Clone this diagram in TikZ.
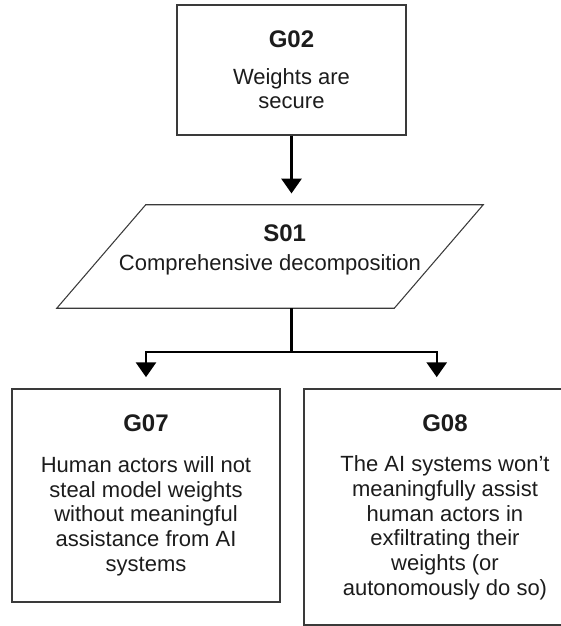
\documentclass[tikz,border=0pt]{standalone}
\usepackage{fontspec}
\setmainfont{Liberation Sans}
\usetikzlibrary{arrows.meta}

\definecolor{boxgrey}{HTML}{3A3A3A}
\definecolor{inkblack}{HTML}{1C1C1C}
\newcommand{\bodyfont}{\fontsize{16.5}{18.5}\selectfont}
\newcommand{\titlefont}{\bfseries\fontsize{18}{18}\selectfont}

\tikzset{
  boxline/.style={draw=boxgrey, line width=0.8pt},
  goal/.style={boxline, rectangle, align=center, inner sep=0pt, text=inkblack, font=\bodyfont},
  link/.style={line width=1.6pt},
  arr/.style={link, -{Triangle[length=11pt,width=15pt]}, shorten >=8.5pt},
}

\begin{document}
\begin{tikzpicture}[x=0.75pt,y=-0.75pt]
\clip (0,0) rectangle (561,626);

\node[goal, minimum width=171.75pt, minimum height=97.5pt] (g02) at (291.5,70) {{\titlefont G02}\\[9pt]Weights are\\secure};
\node[inner sep=0pt, minimum width=319.5pt, minimum height=77.25pt] (s01) at (270,256.5) {};
\draw[boxline] (s01.south west) -- ([xshift=-66.75pt]s01.south east) -- (s01.north east) -- ([xshift=66.75pt]s01.north west) -- cycle;
\node[align=center, text=inkblack, font=\bodyfont] (s01text) at (270,250) {\hspace*{22pt}{\titlefont S01}\\[3pt]Comprehensive decomposition};
\node[goal, minimum width=201pt, minimum height=159.75pt] (g07) at (146,495.5) {{\titlefont G07}\\[12pt]Human actors will not\\steal model weights\\without meaningful\\assistance from AI\\systems};
\node[goal, minimum width=211.5pt, minimum height=177pt] (g08) at (445,507) {{\titlefont G08}\\[12pt]The AI systems won’t\\meaningfully assist\\human actors in\\exfiltrating their\\weights (or\\autonomously do so)};

\coordinate (split) at (291.5,352);

\draw[arr] (g02.south) -- (g02.south |- s01.north);
\draw[link] (g02.south |- s01.south) -- (split);
\draw[arr] (split) -| (g07.north);
\draw[arr] (split) -| ([xshift=-6.2pt]g08.north);
\end{tikzpicture}
\end{document}
